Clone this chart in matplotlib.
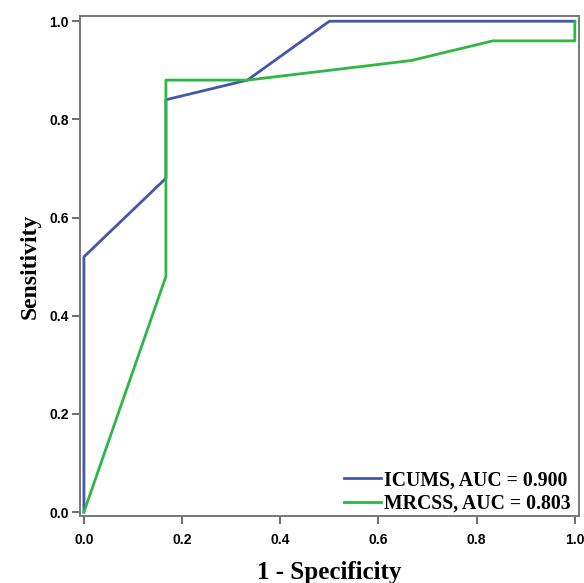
import matplotlib
matplotlib.use("Agg")
import matplotlib.pyplot as plt

# ROC curve points
icums_fpr = [0.0, 0.0, 0.167, 0.167, 0.333, 0.5, 1.0]
icums_tpr = [0.0, 0.52, 0.68, 0.84, 0.88, 1.0, 1.0]
mrcss_fpr = [0.0, 0.167, 0.167, 0.333, 0.667, 0.833, 1.0, 1.0]
mrcss_tpr = [0.0, 0.48, 0.88, 0.88, 0.92, 0.96, 0.96, 1.0]

labels = ["ICUMS, AUC = 0.900", "MRCSS, AUC = 0.803"]
colors = ["#4257AB", "#2DB843"]
ticks = [0.0, 0.2, 0.4, 0.6, 0.8, 1.0]
tick_labels = ["0.0", "0.2", "0.4", "0.6", "0.8", "1.0"]

fig = plt.figure(figsize=(5.84, 5.83), dpi=100)
ax = fig.add_axes([0.137, 0.115, 0.854, 0.857])

ax.plot(icums_fpr, icums_tpr, color=colors[0], linewidth=2.0, label=labels[0])
ax.plot(mrcss_fpr, mrcss_tpr, color=colors[1], linewidth=2.0, label=labels[1])

ax.set_xlim(-0.008, 1.008)
ax.set_ylim(-0.008, 1.01)
ax.set_xticks(ticks)
ax.set_yticks(ticks)
ax.set_xticklabels(tick_labels, fontfamily="Liberation Sans", fontweight="bold", fontsize=10)
ax.set_yticklabels(tick_labels, fontfamily="Liberation Sans", fontweight="bold", fontsize=10)
ax.tick_params(axis="x", direction="out", length=6, width=1.2, color="#555555", pad=6)
ax.tick_params(axis="y", direction="out", length=6, width=1.2, color="#555555", pad=2)

for s in ax.spines.values():
    s.set_color("#777777")
    s.set_linewidth(1.4)

ax.set_xlabel("1 - Specificity", fontfamily="Liberation Serif", fontweight="bold", fontsize=18, labelpad=10)
ax.set_ylabel("Sensitivity", fontfamily="Liberation Serif", fontweight="bold", fontsize=17, labelpad=6)

leg = ax.legend(loc="lower right", bbox_to_anchor=(1.0, -0.012), frameon=False,
                handlelength=1.9, handletextpad=0.15, borderaxespad=0.0, labelspacing=0.2,
                prop={"family": "Liberation Serif", "weight": "bold", "size": 14.2})

fig.savefig("out.png", dpi=100)
